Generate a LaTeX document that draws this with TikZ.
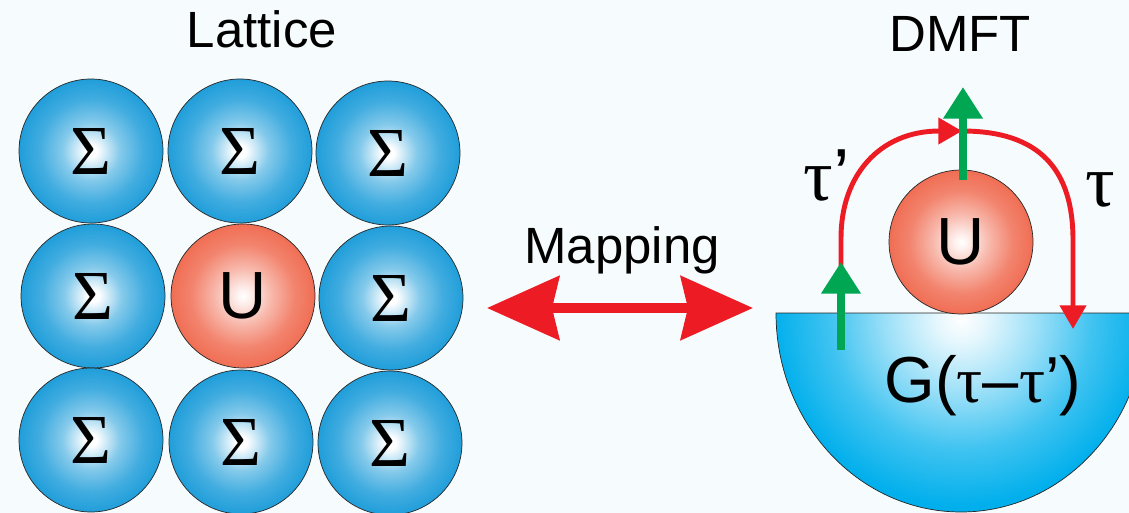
\documentclass[tikz,border=0pt]{standalone}
\usepackage{fontspec}
\setmainfont{Liberation Sans}
\newfontfamily\grecfont{Liberation Serif}
\usepackage{tikz}
\usetikzlibrary{arrows.meta}

\begin{document}
\begin{tikzpicture}[x=0.02cm,y=-0.02cm,
  sigma/.style={circle,draw=black!85,line width=0.4pt,minimum size=2.88cm,inner sep=0pt,
    shade,shading=bouleS,font=\grecfont\fontsize{40}{40}\selectfont},
  hubbard/.style={circle,draw=black!85,line width=0.4pt,minimum size=2.88cm,inner sep=0pt,
    shade,shading=bouleU,font=\fontsize{38}{38}\selectfont},
  titre/.style={anchor=base,inner sep=0pt,font=\fontsize{29}{29}\selectfont},
  tau/.style={anchor=base,inner sep=0pt,font=\fontsize{42}{42}\selectfont},
  fleche map/.style={draw=rougeF,line width=5.6pt,
    {Stealth[length=41pt,width=36pt,inset=4pt]}-{Stealth[length=41pt,width=36pt,inset=4pt]}},
  fleche verte/.style={draw=vertF,line width=4.5pt,-{Triangle[length=18pt,width=21.5pt]}},
  fleche rouge/.style={draw=rougeF,line width=2.8pt,-{Triangle[length=13.5pt,width=14.7pt]}}]

% Couleurs
\definecolor{fond}{RGB}{246,252,254}
\definecolor{bleuS}{RGB}{32,158,218}
\definecolor{rougeU}{RGB}{240,110,84}
\definecolor{cyanG}{RGB}{0,175,236}
\definecolor{rougeF}{RGB}{237,28,36}
\definecolor{vertF}{RGB}{0,166,81}

% Degrades
\pgfdeclareradialshading{bouleS}{\pgfpoint{0bp}{0bp}}{color(0bp)=(white);color(2bp)=(white);
  color(10bp)=(bleuS!55!white);color(18bp)=(bleuS!85!white);color(25bp)=(bleuS);color(50bp)=(bleuS)}
\pgfdeclareradialshading{bouleU}{\pgfpoint{0bp}{0bp}}{color(0bp)=(white);color(2bp)=(rougeU!8!white);
  color(10bp)=(rougeU!50!white);color(18bp)=(rougeU!85!white);color(25bp)=(rougeU);color(50bp)=(rougeU)}
\pgfdeclareradialshading{bainG}{\pgfpoint{0bp}{0bp}}{color(0bp)=(white);color(3bp)=(cyanG!10!white);
  color(9bp)=(cyanG!38!white);color(16bp)=(cyanG!75!white);color(23bp)=(cyanG);color(50bp)=(cyanG)}

% Fond
\fill[fond] (0,0) rectangle (1129,513);
\useasboundingbox (0,0) rectangle (1129,513);
\clip (0,0) rectangle (1129,513);

% Reseau 3x3
\foreach \cx/\cy/\nom in {91/151/s1,240/151/s2,388/153/s3,93/296/s4,391/298/s6,91/440/s7,241/442/s8,390/443/s9}
  \node[sigma] (\nom) at (\cx,\cy) {Σ};
\node[hubbard] (u1) at (243,296) {U};

% Fleche Mapping
\coordinate (mapG) at (487,308);
\coordinate (mapD) at (753,308);
\draw[fleche map] (mapG) -- (mapD);

% Bain (demi-ellipse)
\begin{scope}
  \clip (776,313) arc[start angle=180,end angle=0,x radius=185,y radius=199] -- cycle;
  \shade[shading=bainG] (961,318) circle[radius=205];
\end{scope}
\draw[black!85,line width=0.4pt] (776,313) arc[start angle=180,end angle=0,x radius=185,y radius=199] -- cycle;

% Impurete U
\node[hubbard] (u2) at (961,242) {U};

% Chemin rouge
\coordinate (r0) at (841,270);
\coordinate (r1) at (841,238);
\coordinate (r2) at (962,131);
\coordinate (r3) at (1073,240);
\coordinate (r4) at (1073,329);
\draw[fleche rouge] (r0) -- (r1) .. controls (841,175) and (880,131) .. (r2);
\draw[fleche rouge] (r2) .. controls (1040,131) and (1073,170) .. (r3) -- (r4);

% Fleches vertes
\coordinate (v0) at (841,350);
\coordinate (v1) at (841,262);
\coordinate (v2) at (963,180);
\coordinate (v3) at (963,87);
\draw[fleche verte] (v0) -- (v1);
\draw[fleche verte] (v2) -- (v3);

% Etiquettes
\node[titre] (lat) at (262,48) {Lattice};
\node[titre] (dmft) at (960,52) {DMFT};
\node[titre] (map) at (622,263) {Mapping};
\node[tau] (tp) at (827,201) {{\grecfont τ}’};
\node[tau] (t) at (1100,207) {\grecfont τ};
\node[tau,font=\fontsize{37}{37}\selectfont] (g) at (983,402) {G({\grecfont τ}–{\grecfont τ}’)};

\end{tikzpicture}
\end{document}
